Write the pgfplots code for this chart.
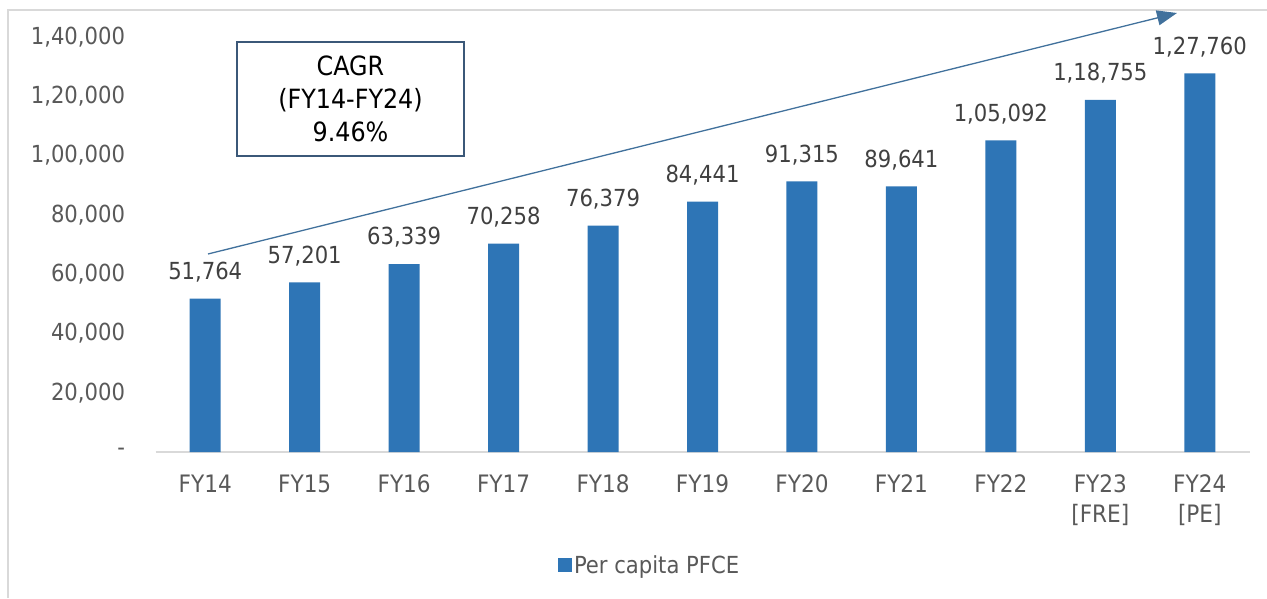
\documentclass[border=0pt]{standalone}
\usepackage{pgfplots}
\pgfplotsset{compat=1.18}
\usepackage{pgfplotstable}
\usepackage{fontspec}
\setmainfont{DejaVu Sans Condensed}
\usetikzlibrary{arrows.meta}
\definecolor{barblue}{HTML}{2E75B6}
\definecolor{ticktext}{HTML}{595959}
\definecolor{labeltext}{HTML}{404040}
\definecolor{axisgray}{HTML}{D9D9D9}
\definecolor{arrowblue}{HTML}{41719C}
\definecolor{boxblue}{HTML}{3B5878}
\pgfplotstableread{
x y label
0 51764 51,764
1 57201 57,201
2 63339 63,339
3 70258 70,258
4 76379 76,379
5 84441 84,441
6 91315 91,315
7 89641 89,641
8 105092 1,05,092
9 118755 1,18,755
10 127760 1,27,760
}\pfcedata
\begin{document}
\begin{tikzpicture}[x=1pt,y=1pt]
\useasboundingbox (0,0) rectangle (1267,598);
\draw[color=axisgray, line width=1.5pt] (8,0) -- (8,588) -- (1267,588);
\begin{axis}[
  at={(155.5pt,146pt)}, anchor=south west,
  scale only axis, width=1094pt, height=415pt,
  xmin=-0.5, xmax=10.5, ymin=0, ymax=140000,
  clip=false,
  scaled y ticks=false,
  axis lines*=left,
  y axis line style={draw=none},
  x axis line style={draw=axisgray, line width=1.5pt},
  major tick length=0pt,
  xtick=data,
  xticklabels={FY14,FY15,FY16,FY17,FY18,FY19,FY20,FY21,FY22,{FY23\\{[FRE]}},{FY24\\{[PE]}}},
  ytick={0,20000,40000,60000,80000,100000,120000,140000},
  yticklabels={-,{20,000},{40,000},{60,000},{80,000},{1,00,000},{1,20,000},{1,40,000}},
  x tick label style={font=\fontsize{24}{30}\selectfont, text=ticktext, align=center, yshift=-19pt},
  y tick label style={font=\fontsize{23.5}{28}\selectfont, text=ticktext, xshift=-27pt},
  ybar, bar width=31pt,
  point meta=explicit symbolic,
  nodes near coords,
  every node near coord/.append style={font=\fontsize{23.5}{28}\selectfont, text=labeltext, yshift=13pt},
  legend style={draw=none, at={(0.365,-0.272)}, anchor=west, font=\fontsize{23.5}{28}\selectfont, text=ticktext},
  legend image code/.code={\fill[barblue] (0pt,-7pt) rectangle (14pt,7pt);},
]
\addplot[fill=barblue, draw=none] table[x=x, y=y, meta=label] {\pfcedata};
\addlegendentry{Per capita PFCE}
\end{axis}
\draw[arrowblue, line width=1.3pt, -{Triangle[length=20pt, width=15pt]}] (208,344) -- (1177,585);
\node[draw=boxblue, line width=2pt, fill=white, minimum width=227pt, minimum height=114pt, align=center, font=\fontsize{26.5}{33}\selectfont, text=black] at (350.5,499) {CAGR\\(FY14-FY24)\\9.46\%};
\end{tikzpicture}
\end{document}
